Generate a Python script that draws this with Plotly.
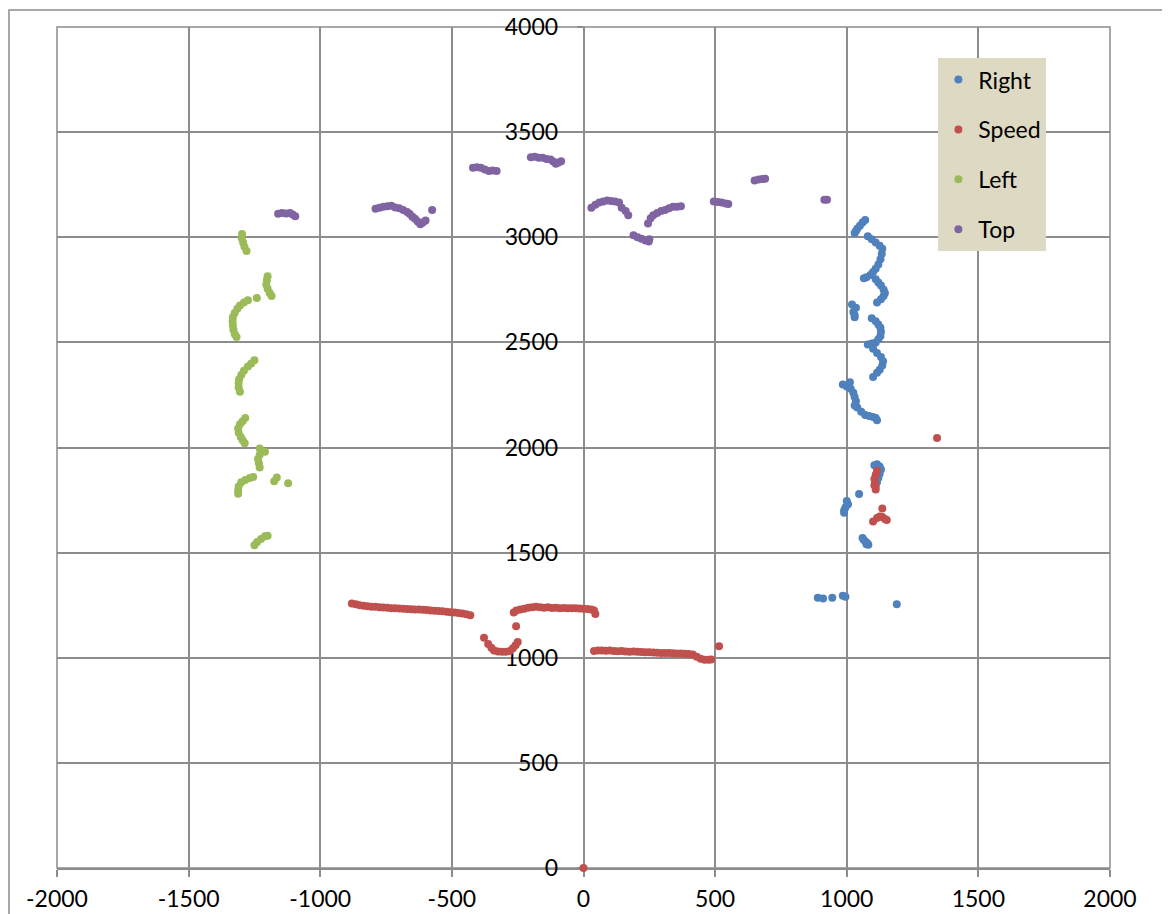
import plotly.graph_objects as go

# ---------------- data ----------------
right_x = [1030, 1035, 1040, 1050, 1060, 1070,
           1080, 1095, 1110, 1125, 1135, 1133, 1128, 1120, 1110, 1100, 1090, 1075, 1065,
           1110, 1120, 1130, 1140, 1145, 1140, 1130, 1115,
           1020, 1035, 1025, 1030, 1030,
           1095, 1110, 1120, 1128, 1130, 1128, 1120, 1110, 1095, 1080,
           1100, 1115, 1130, 1138, 1135, 1125, 1115, 1100,
           985, 1000, 1012, 1015, 1025, 1030, 1035, 1030, 1040, 1055, 1070, 1085, 1100, 1110, 1115,
           1105, 1115, 1125, 1130, 1125, 1120, 1115,
           1047,
           1000, 1005, 995, 990, 990,
           1060, 1065, 1072, 1078, 1082, 1075,
           890, 910, 945, 985, 995, 1190]
right_y = [3020, 3030, 3040, 3055, 3070, 3082,
           3005, 2990, 2975, 2960, 2945, 2920, 2895, 2870, 2850, 2835, 2820, 2810, 2805,
           2800, 2785, 2770, 2750, 2735, 2720, 2705, 2690,
           2680, 2665, 2645, 2630, 2620,
           2615, 2600, 2585, 2570, 2550, 2530, 2515, 2500, 2495, 2490,
           2470, 2450, 2430, 2410, 2390, 2370, 2355, 2335,
           2300, 2290, 2310, 2280, 2260, 2240, 2220, 2200, 2190, 2170, 2155, 2150, 2145, 2140, 2130,
           1915, 1920, 1910, 1895, 1875, 1855, 1835,
           1779,
           1745, 1730, 1715, 1700, 1690,
           1570, 1560, 1552, 1545, 1537, 1540,
           1285, 1282, 1285, 1295, 1290, 1255]

speed_x = [-880, -865, -850, -835, -820, -805, -790, -775, -760, -745, -730, -715, -700,
           -685, -670, -655, -640, -625, -610, -595, -580, -565, -550, -535, -520, -505,
           -490, -475, -460, -445, -430,
           -378, -362, -350, -340, -325, -310, -295, -280, -268, -258, -250, -256,
           -265, -255, -240, -225, -210, -195, -180, -165, -150, -135, -120, -105, -90,
           -75, -60, -45, -30, -15, 0, 15, 30, 40, 45,
           40, 55, 70, 85, 100, 115, 130, 145, 160, 175, 190, 205, 220, 235, 250, 265,
           280, 295, 310, 325, 340, 355, 370, 385, 400, 415, 430, 445, 460, 475, 485, 515,
           1115, 1110, 1105, 1108, 1110, 1110, 1105,
           1135, 1100, 1115, 1125, 1135, 1145, 1152,
           1343, 0]
speed_y = [1258, 1255, 1250, 1247, 1245, 1243, 1242, 1240, 1239, 1238, 1236, 1235, 1234,
           1233, 1232, 1231, 1230, 1229, 1228, 1227, 1225, 1224, 1222, 1221, 1219, 1217,
           1215, 1213, 1210, 1207, 1202,
           1095, 1065, 1048, 1035, 1030, 1028, 1028, 1032, 1045, 1060, 1075, 1150,
           1215, 1225, 1230, 1233, 1238, 1240, 1243, 1240, 1238, 1240, 1237, 1238, 1236,
           1237, 1235, 1236, 1235, 1234, 1233, 1232, 1230, 1225, 1208,
           1032, 1035, 1034, 1033, 1034, 1032, 1031, 1032, 1030, 1029, 1030, 1028, 1027, 1026, 1026, 1025,
           1024, 1023, 1022, 1022, 1021, 1020, 1020, 1019, 1018, 1015, 1005, 995, 990, 990, 992, 1055,
           1890, 1870, 1850, 1830, 1815, 1800, 1820,
           1710, 1648, 1665, 1672, 1670, 1660, 1655,
           2045, 0]

left_x = [-1297, -1298, -1293, -1288, -1280,
          -1200, -1203, -1205, -1200, -1192, -1185,
          -1241,
          -1275, -1290, -1305, -1315, -1325, -1332, -1333, -1332, -1330, -1325, -1318,
          -1250, -1262, -1275, -1290, -1300, -1308, -1310, -1310, -1305,
          -1285, -1295, -1305, -1312, -1310, -1302, -1295, -1287,
          -1230, -1210, -1230, -1237, -1233, -1230,
          -1255, -1268, -1285, -1300, -1310, -1312, -1312,
          -1165, -1175, -1122,
          -1250, -1240, -1225, -1210, -1200]
left_y = [3015, 2995, 2975, 2955, 2935,
          2815, 2795, 2775, 2755, 2735, 2720,
          2711,
          2700, 2690, 2675, 2660, 2640, 2620, 2600, 2580, 2560, 2540, 2525,
          2415, 2400, 2385, 2365, 2345, 2325, 2305, 2285, 2265,
          2140, 2125, 2110, 2090, 2070, 2050, 2035, 2020,
          1995, 1980, 1965, 1945, 1925, 1905,
          1860, 1855, 1845, 1835, 1815, 1795, 1780,
          1857, 1840, 1830,
          1535, 1550, 1565, 1578, 1580]

top_x = [-1160, -1145, -1130, -1115, -1105, -1095,
         -790, -775, -760, -745, -730, -715, -700, -685, -670, -660, -650, -640, -630, -620,
         -610, -600, -575,
         -420, -405, -390, -375, -360, -345, -330,
         -200, -185, -170, -155, -140, -125, -115, -105, -95, -85,
         30, 45, 60, 75, 90, 105, 120, 135, 145, 160, 170,
         190, 205, 220, 235, 248, 250,
         245, 255, 265, 280, 295, 310, 325, 340, 355, 370,
         495, 510, 525, 540, 550,
         650, 665, 680, 690,
         915, 925]
top_y = [3112, 3115, 3113, 3115, 3108, 3100,
         3135, 3140, 3145, 3148, 3150, 3142, 3138, 3130, 3120, 3110, 3098, 3088, 3075, 3062,
         3070, 3080, 3130,
         3330, 3333, 3330, 3322, 3315, 3318, 3315,
         3380, 3383, 3378, 3378, 3372, 3370, 3360, 3350, 3355, 3362,
         3140, 3155, 3165, 3170, 3175, 3173, 3170, 3165, 3140, 3125, 3105,
         3010, 3000, 2993, 2985, 2980, 2990,
         3065, 3090, 3105, 3115, 3125, 3130, 3138, 3145, 3145, 3148,
         3170, 3168, 3165, 3160, 3158,
         3270, 3275, 3277, 3278,
         3178, 3178]

x_ticks = [-2000, -1500, -1000, -500, 0, 500, 1000, 1500, 2000]
y_ticks = [0, 500, 1000, 1500, 2000, 2500, 3000, 3500, 4000]

series = [
    ("Right", right_x, right_y, "#4F81BD"),
    ("Speed", speed_x, speed_y, "#C0504D"),
    ("Left", left_x, left_y, "#9BBB59"),
    ("Top", top_x, top_y, "#8064A2"),
]

FONT = "Lato, 'Open Sans', sans-serif"
GRID = "#8c8c8c"

fig = go.Figure()
for name, xs, ys, col in series:
    fig.add_trace(go.Scatter(
        x=xs, y=ys, mode="markers", name=name, legendgroup=name,
        marker=dict(size=8, color=col, line=dict(width=0)),
        cliponaxis=False,
    ))

fig.update_layout(
    width=1170, height=914,
    margin=dict(l=49, r=68, t=19, b=54, autoexpand=False),
    paper_bgcolor="white", plot_bgcolor="white",
    font=dict(family=FONT, size=23, color="black"),
    showlegend=True,
    legend=dict(
        x=0.837, y=0.963, xanchor="left", yanchor="top",
        bgcolor="#DDD9C3", borderwidth=0,
        font=dict(family=FONT, size=23, color="black"),
        tracegroupgap=17,
        itemwidth=30,
    ),
    xaxis=dict(
        range=[-2000, 2000], tickvals=x_ticks, ticktext=[str(v) for v in x_ticks],
        showgrid=True, gridcolor=GRID, gridwidth=1.5,
        zeroline=False, showline=True, linecolor=GRID, linewidth=2,
        ticks="outside", ticklen=7, tickcolor=GRID, tickwidth=1.5,
        ticklabelstandoff=2,
        tickfont=dict(family=FONT, size=23, color="black"),
        domain=[0, 1], layer="below traces",
    ),
    yaxis=dict(
        range=[0, 4000], tickvals=y_ticks, ticktext=[str(v) for v in y_ticks],
        showgrid=True, gridcolor=GRID, gridwidth=1.5,
        zeroline=False, showline=True, linecolor=GRID, linewidth=1.5,
        ticks="outside", ticklen=6, tickcolor=GRID, tickwidth=1.5,
        ticklabelstandoff=14,
        tickfont=dict(family=FONT, size=23, color="black"),
        anchor="free", position=0.5, layer="below traces",
    ),
    shapes=[
        dict(type="rect", xref="paper", yref="paper", x0=0, x1=1, y0=0, y1=1,
             line=dict(color=GRID, width=1.5), layer="below"),
        dict(type="rect", xref="paper", yref="paper", x0=-0.0456, x1=1.3, y0=-0.2, y1=1.0202,
             line=dict(color="#8c8c8c", width=1.5), layer="below"),
    ],
)

fig.write_html("out.html")
